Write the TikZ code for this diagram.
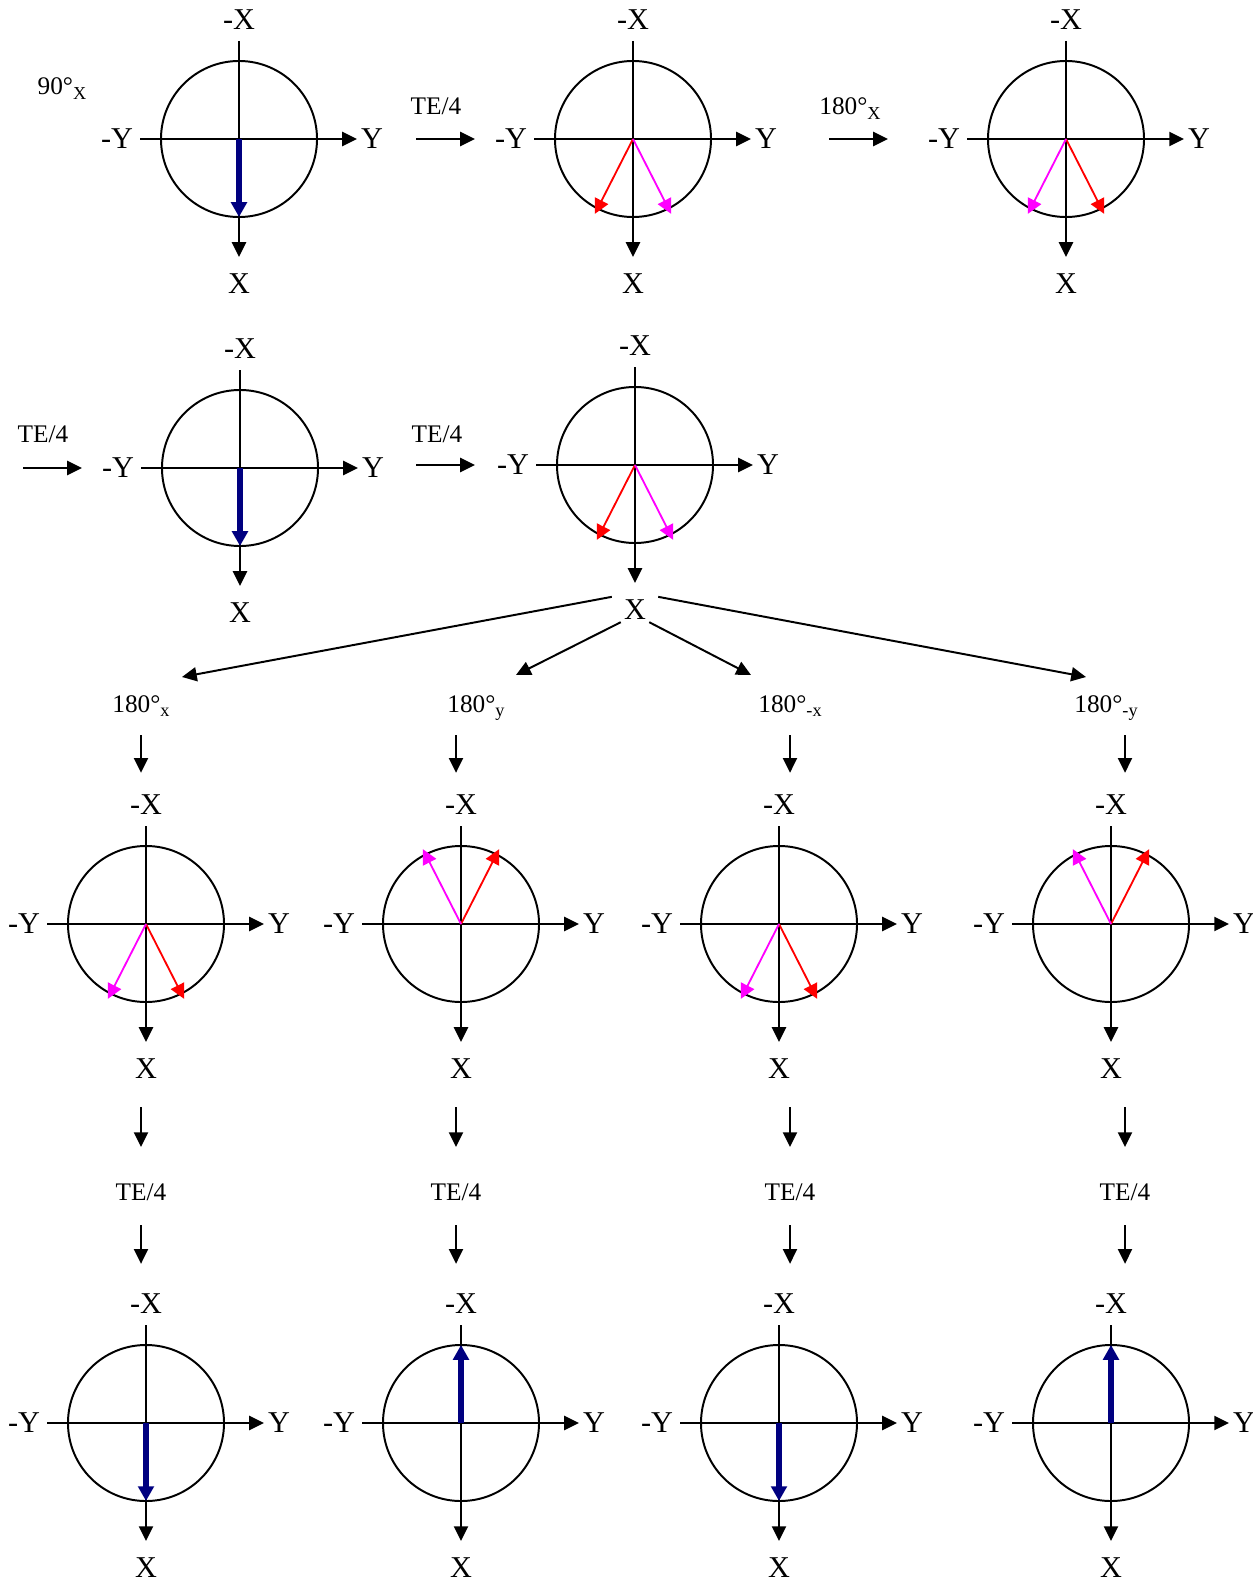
\documentclass[tikz,border=0pt]{standalone}
\usepackage{fontspec}
\setmainfont{Liberation Serif}
\usetikzlibrary{arrows.meta,calc}

\definecolor{spinblue}{RGB}{0,0,128}
\definecolor{spinred}{RGB}{255,0,0}
\definecolor{spinmag}{RGB}{255,0,255}

\newcommand{\lowsub}[1]{\raisebox{-0.35ex}{\fontsize{13}{13}\selectfont #1}}

\tikzset{
  ring/.style={line width=1.4pt},
  axis/.style={line width=1.4pt,-{Triangle[length=10.5pt,width=10pt]}},
  flow/.style={line width=1.4pt,-{Triangle[length=10.5pt,width=10pt]}},
  bluevec/.style={spinblue,line width=3.8pt,-{Triangle[length=10.5pt,width=11pt]}},
  redvec/.style={spinred,line width=1.3pt,-{Triangle[length=10.5pt,width=10.5pt]}},
  magvec/.style={spinmag,line width=1.3pt,-{Triangle[length=10.5pt,width=10.5pt]}},
  axlabel/.style={inner sep=0pt,font=\fontsize{21.5}{26}\selectfont},
  steplabel/.style={inner sep=0pt,anchor=base,font=\fontsize{18}{22}\selectfont}
}

\begin{document}
\begin{tikzpicture}[x=0.025cm,y=-0.025cm]
  \useasboundingbox (0,0) rectangle (1252,1582);

  % one dial: name, centre x, centre y
  \newcommand{\spindial}[3]{%
    \coordinate (#1) at (#2,#3);
    \draw[ring] (#1) circle[radius=1.95cm];
    \draw[axis] (#2,#3-98) -- (#2,#3+118);
    \draw[axis] (#2-99,#3) -- (#2+118,#3);
    \node[axlabel] (#1-nx) at (#2,#3-119) {-X};
    \node[axlabel] (#1-px) at (#2,#3+145) {X};
    \node[axlabel] (#1-ny) at (#2-122,#3) {-Y};
    \node[axlabel] (#1-py) at (#2+133,#3) {Y};
  }
  % red and magenta vectors: dial, red angle, magenta angle
  \newcommand{\spinpair}[3]{%
    \draw[redvec] (#1) -- ++(#2:84);
    \draw[magvec] (#1) -- ++(#3:84);
  }

  % first two rows
  \spindial{d1}{239}{139}
  \draw[bluevec] (d1) -- ++(90:78);
  \spindial{d2}{633}{139}
  \spinpair{d2}{117}{63}
  \spindial{d3}{1066}{139}
  \spinpair{d3}{63}{117}
  \spindial{d4}{240}{468}
  \draw[bluevec] (d4) -- ++(90:78);
  \spindial{d5}{635}{465}
  \spinpair{d5}{117}{63}

  \node[steplabel] (l90) at (62,95) {90°\lowsub{X}};
  \node[steplabel] (l1) at (436,115) {TE/4};
  \node[steplabel] (l2) at (850,115) {180°\lowsub{X}};
  \node[steplabel] (l3) at (43,442) {TE/4};
  \node[steplabel] (l4) at (437,442) {TE/4};
  \draw[flow] ($(l1.base)+(-20,24)$) -- ($(l1.base)+(39,24)$);
  \draw[flow] ($(l2.base)+(-21,24)$) -- ($(l2.base)+(38,24)$);
  \draw[flow] ($(l3.base)+(-20,26)$) -- ($(l3.base)+(39,26)$);
  \draw[flow] ($(l4.base)+(-21,23)$) -- ($(l4.base)+(38,23)$);

  % branches out of the last X
  \coordinate (b1) at (182,677);
  \coordinate (b2) at (516,675);
  \coordinate (b3) at (751,675);
  \coordinate (b4) at (1086,677);
  \draw[flow] ($(d5-px.north west)+(-12,-3)$) -- (b1);
  \draw[flow] ($(d5-px.south west)+(-3,2)$) -- (b2);
  \draw[flow] ($(d5-px.south east)+(3,2)$) -- (b3);
  \draw[flow] ($(d5-px.north east)+(12,-3)$) -- (b4);

  % third row
  \foreach \n/\cx/\r/\m in {1/146/63/117, 2/461/297/243, 3/779/63/117, 4/1111/297/243}{
    \spindial{c\n}{\cx}{924}
    \spinpair{c\n}{\r}{\m}
  }
  % fourth row
  \foreach \n/\cx/\a in {1/146/90, 2/461/270, 3/779/90, 4/1111/270}{
    \spindial{e\n}{\cx}{1423}
    \draw[bluevec] (e\n) -- ++(\a:78);
  }

  % column labels and arrows
  \foreach \n/\lx/\ax/\lab in {1/141/141/x, 2/476/456/y, 3/790/790/-x, 4/1106/1125/-y}{
    \node[steplabel] (r\n) at (\lx,712) {180°\lowsub{\lab}};
    \node[steplabel] (q\n) at (\ax,1200) {TE/4};
    \draw[flow] ($(r\n.base -| q\n)+(0,23)$) -- ($(c\n-nx.north -| q\n)+(0,-22)$);
    \draw[flow] ($(c\n-px.south -| q\n)+(0,28)$) -- ($(q\n.north)+(0,-36)$);
    \draw[flow] ($(q\n.base)+(0,25)$) -- ($(e\n-nx.north -| q\n)+(0,-30)$);
  }
\end{tikzpicture}
\end{document}
